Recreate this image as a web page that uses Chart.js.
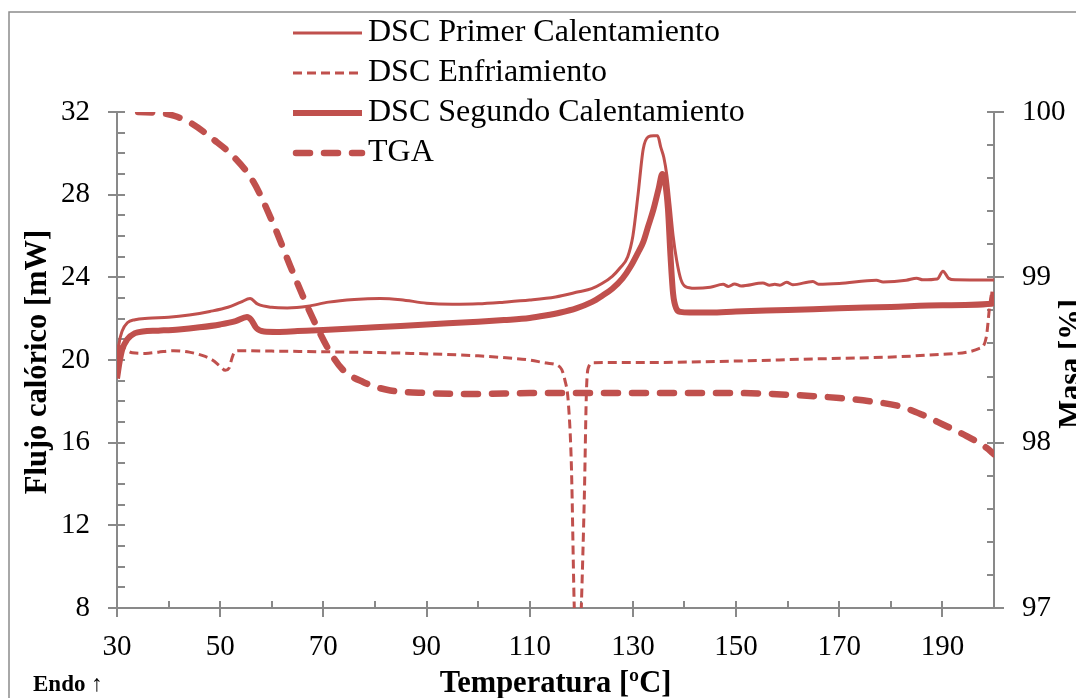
<!DOCTYPE html>
<html><head><meta charset="utf-8">
<script src="https://cdn.jsdelivr.net/npm/chart.js@4.4.1/dist/chart.umd.min.js"></script>
<style>html,body{margin:0;padding:0;background:#fff;}#wrap{width:1076px;height:698px;position:relative;}</style>
</head><body><div id="wrap"><canvas id="c" width="1076" height="698"></canvas></div>
<script>
// ---------- DATA ----------
const seriesNames = ['DSC Primer Calentamiento', 'DSC Enfriamiento', 'DSC Segundo Calentamiento', 'TGA'];

const tempPrimer = [30, 30.4, 31, 32, 33.5, 36, 40, 44, 48, 51.5, 54, 55.8, 57.3, 60, 63, 67, 71, 76, 81, 85, 90, 95, 100, 105, 110, 115, 119.5, 122, 124, 126, 127.5, 129, 130, 131, 132, 133, 134, 134.8, 135.4, 136, 136.6, 137.2, 137.8, 138.5, 139.3, 140.2, 142, 145, 147.5, 148.5, 149.7, 151, 155.2, 156.5, 157.5, 158.5, 159.8, 161, 164.9, 166, 170, 177.2, 178.5, 183, 185, 186.2, 189, 190.1, 191.2, 192.5, 200];
const flujoPrimer = [19.8, 20.8, 21.4, 21.8, 21.95, 22.02, 22.07, 22.18, 22.35, 22.55, 22.8, 22.97, 22.7, 22.55, 22.52, 22.6, 22.8, 22.93, 22.98, 22.92, 22.75, 22.7, 22.72, 22.8, 22.9, 23.05, 23.3, 23.45, 23.7, 24.05, 24.45, 25.0, 26.0, 28.0, 30.2, 30.8, 30.85, 30.85, 30.3, 29.8, 28.9, 27.5, 26.0, 24.8, 23.9, 23.55, 23.47, 23.52, 23.66, 23.56, 23.68, 23.58, 23.72, 23.62, 23.66, 23.62, 23.76, 23.64, 23.8, 23.66, 23.7, 23.86, 23.78, 23.86, 23.96, 23.88, 23.92, 24.3, 23.95, 23.88, 23.87];

const tempEnfr = [30, 31, 33, 35.5, 38, 41, 44, 46.5, 48.5, 50, 51, 51.7, 52.3, 52.9, 54, 60, 70, 87, 100, 106.8, 110, 113.3, 115.9, 116.8, 117.5, 118.1, 118.6, 119.3, 120.0, 120.6, 121.0, 121.4, 122.3, 133, 150, 165, 181.7, 190, 197.2, 198.5, 199.2, 199.5];
const flujoEnfr = [20.7, 20.6, 20.35, 20.32, 20.38, 20.45, 20.38, 20.22, 20.0, 19.7, 19.5, 19.6, 20.1, 20.42, 20.45, 20.43, 20.4, 20.32, 20.2, 20.08, 20.0, 19.85, 19.65, 19.05, 17.9, 14.7, 8.4, 3, 8, 13.5, 18.5, 19.65, 19.87, 19.88, 19.95, 20.05, 20.16, 20.28, 20.56, 21.1, 22.7, 23.2];

const tempSegundo = [30, 30.5, 31, 32, 33.5, 35, 38, 42, 46, 50, 53, 55.2, 56, 57, 58.5, 61, 65, 70, 80, 90, 100, 105, 110, 113, 116, 119, 122, 124, 126, 128, 129.5, 131, 132, 133, 134, 135, 135.7, 136.3, 136.8, 137.3, 137.8, 138.4, 139.2, 141, 145, 150, 160, 170, 180, 190, 199.6, 199.9];
const flujoSegundo = [19.1, 19.9, 20.5, 21.0, 21.3, 21.38, 21.42, 21.48, 21.58, 21.72, 21.88, 22.08, 21.95, 21.55, 21.38, 21.36, 21.4, 21.45, 21.58, 21.72, 21.85, 21.93, 22.03, 22.15, 22.3, 22.5, 22.8, 23.1, 23.45, 23.95, 24.5, 25.2, 25.7, 26.5, 27.3, 28.3, 29.0, 28.5, 27.3, 25.0, 23.2, 22.5, 22.33, 22.3, 22.3, 22.35, 22.42, 22.5, 22.57, 22.65, 22.72, 23.3];

const tempTGA = [34.1, 38.3, 41.2, 44.7, 48.6, 52.5, 56.4, 60.2, 63.9, 67.4, 71.3, 73.8, 77.7, 82.3, 90, 100, 110, 120, 130, 140, 150, 160, 170, 176, 181.7, 186, 190.1, 194.7, 198.5, 200];
const masaTGA = [100.0, 99.994, 99.976, 99.926, 99.836, 99.733, 99.58, 99.33, 99.044, 98.79, 98.548, 98.44, 98.367, 98.32, 98.3, 98.295, 98.3, 98.3, 98.3, 98.3, 98.3, 98.29, 98.27, 98.25, 98.22, 98.17, 98.11, 98.04, 97.97, 97.93];

const xTickLabels = [30, 50, 70, 90, 110, 130, 150, 170, 190];
const yTickLabels = [8, 12, 16, 20, 24, 28, 32];
const y2TickLabels = [97, 98, 99, 100];

// ---------- STYLE ----------
const RED = '#C0504D';
const AXIS = '#898989';
const FONT = "'Liberation Serif', 'Times New Roman', serif";

function zip(xs, ys) { return xs.map((x, i) => ({ x: x, y: ys[i] })); }
function near(v, arr) { return arr.some(a => Math.abs(a - v) < 1e-6); }

const tickPlugin = {
  id: 'customTicks',
  beforeDatasetsDraw(chart) {
    const ctx = chart.ctx, ca = chart.chartArea;
    ctx.save();
    ctx.strokeStyle = AXIS; ctx.lineWidth = 2;
    const sx = chart.scales.x;
    sx.ticks.forEach(t => {
      const px = Math.round(sx.getPixelForValue(t.value));
      const major = near(t.value, xTickLabels);
      ctx.beginPath(); ctx.moveTo(px, ca.bottom - 7); ctx.lineTo(px, major ? ca.bottom + 9 : ca.bottom); ctx.stroke();
    });
    const sy = chart.scales.y;
    sy.ticks.forEach(t => {
      const py = Math.round(sy.getPixelForValue(t.value));
      const major = near(t.value, yTickLabels);
      ctx.beginPath(); ctx.moveTo(major ? ca.left - 9 : ca.left, py); ctx.lineTo(ca.left + 8, py); ctx.stroke();
    });
    const s2 = chart.scales.y2;
    s2.ticks.forEach(t => {
      const py = Math.round(s2.getPixelForValue(t.value));
      const major = near(t.value, y2TickLabels);
      ctx.beginPath(); ctx.moveTo(ca.right - 7, py); ctx.lineTo(major ? ca.right + 10 : ca.right, py); ctx.stroke();
    });
    ctx.restore();
  }
};

const decoPlugin = {
  id: 'deco',
  afterDraw(chart) {
    const ctx = chart.ctx, ca = chart.chartArea;
    ctx.save();
    // outer frame
    ctx.strokeStyle = '#8c8c8c'; ctx.lineWidth = 1.5;
    ctx.strokeRect(9, 12, 1200, 800);
    // legend
    const rows = [33, 73, 113, 153];
    chart.data.datasets.forEach((ds, i) => {
      const y = rows[i];
      ctx.save();
      ctx.strokeStyle = ds.borderColor; ctx.lineWidth = ds.borderWidth;
      ctx.lineCap = ds.borderCapStyle || 'butt';
      ctx.setLineDash(ds.borderDash || []);
      ctx.beginPath(); ctx.moveTo(ds.borderCapStyle === 'round' ? 296 : 293, y); ctx.lineTo(362, y); ctx.stroke();
      ctx.restore();
      ctx.fillStyle = '#000'; ctx.font = '32px ' + FONT; ctx.textBaseline = 'middle'; ctx.textAlign = 'left';
      ctx.fillText(ds.label, 368, y);
    });
    // axis titles
    ctx.fillStyle = '#000';
    ctx.font = 'bold 30.5px ' + FONT;
    ctx.textAlign = 'center'; ctx.textBaseline = 'alphabetic';
    ctx.fillText('Temperatura [ºC]', (ca.left + ca.right) / 2, 692);
    ctx.save(); ctx.translate(46, (ca.top + ca.bottom) / 2 + 2); ctx.rotate(-Math.PI / 2);
    ctx.fillText('Flujo calórico [mW]', 0, 0); ctx.restore();
    ctx.save(); ctx.translate(1080, 364); ctx.rotate(-Math.PI / 2);
    ctx.fillText('Masa [%]', 0, 0); ctx.restore();
    ctx.font = 'bold 23px ' + FONT; ctx.textAlign = 'left';
    ctx.fillText('Endo ↑', 33, 691);
    ctx.restore();
  }
};

const common = { pointRadius: 0, pointHoverRadius: 0, fill: false, cubicInterpolationMode: 'monotone', borderColor: RED };

new Chart(document.getElementById('c'), {
  type: 'line',
  data: {
    datasets: [
      Object.assign({ label: seriesNames[0], data: zip(tempPrimer, flujoPrimer), borderWidth: 3, yAxisID: 'y', borderDash: [] }, common),
      Object.assign({ label: seriesNames[1], data: zip(tempEnfr, flujoEnfr), borderWidth: 3, yAxisID: 'y', borderDash: [9, 5] }, common),
      Object.assign({ label: seriesNames[2], data: zip(tempSegundo, flujoSegundo), borderWidth: 6, yAxisID: 'y', borderDash: [] }, common),
      Object.assign({ label: seriesNames[3], data: zip(tempTGA, masaTGA), borderWidth: 6.5, yAxisID: 'y2', borderDash: [14, 14], borderCapStyle: 'round' }, common)
    ]
  },
  options: {
    responsive: false, animation: false, devicePixelRatio: 1,
    layout: { padding: { top: 112, left: 0, right: 0, bottom: 0 } },
    plugins: { legend: { display: false }, tooltip: { enabled: false }, title: { display: false } },
    scales: {
      x: {
        type: 'linear', min: 30, max: 200,
        ticks: { stepSize: 10, autoSkip: false, maxRotation: 0, color: '#000', font: { family: FONT, size: 29 }, padding: 14,
          callback: v => near(v, xTickLabels) ? String(v) : '' },
        grid: { drawOnChartArea: false, color: 'rgba(0,0,0,0)', tickLength: 8 },
        border: { color: AXIS, width: 2 },
        afterFit: s => { s.height = 90; }
      },
      y: {
        position: 'left', min: 8, max: 32,
        ticks: { stepSize: 1, autoSkip: false, color: '#000', font: { family: FONT, size: 29 }, padding: 19,
          callback: v => near(v, yTickLabels) ? String(v) : '' },
        grid: { drawOnChartArea: false, color: 'rgba(0,0,0,0)', tickLength: 8 },
        border: { color: AXIS, width: 2 },
        afterFit: s => { s.width = 117; }
      },
      y2: {
        position: 'right', min: 97, max: 100,
        ticks: { stepSize: 0.2, autoSkip: false, color: '#000', font: { family: FONT, size: 29 }, padding: 20,
          callback: v => near(v, y2TickLabels) ? String(Math.round(v)) : '' },
        grid: { drawOnChartArea: false, color: 'rgba(0,0,0,0)', tickLength: 8 },
        border: { color: AXIS, width: 2 },
        afterFit: s => { s.width = 82; }
      }
    }
  },
  plugins: [tickPlugin, decoPlugin]
});
</script></body></html>
